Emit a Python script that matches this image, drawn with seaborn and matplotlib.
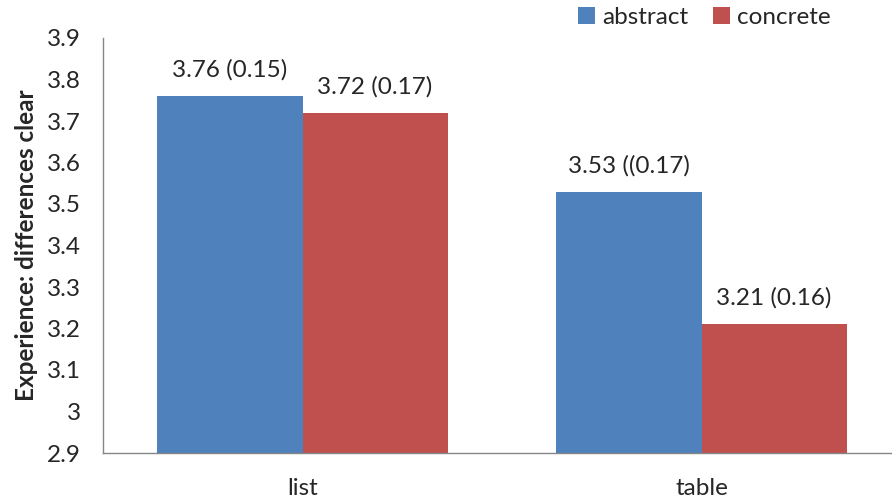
import matplotlib
matplotlib.use("Agg")
import matplotlib.pyplot as plt
import seaborn as sns
import pandas as pd

categories = ["list", "table"]
series = ["abstract", "concrete"]
abstract_vals = [3.76, 3.53]
concrete_vals = [3.72, 3.21]
abstract_labels = ["3.76 (0.15)", "3.53 ((0.17)"]
concrete_labels = ["3.72 (0.17)", "3.21 (0.16)"]
yticks = [2.9, 3.0, 3.1, 3.2, 3.3, 3.4, 3.5, 3.6, 3.7, 3.8, 3.9]
ytick_labels = ["2.9", "3", "3.1", "3.2", "3.3", "3.4", "3.5", "3.6", "3.7", "3.8", "3.9"]
colors = ["#4F81BD", "#C0504D"]

df = pd.DataFrame({
    "category": categories * 2,
    "series": [series[0]] * 2 + [series[1]] * 2,
    "value": abstract_vals + concrete_vals,
})

sns.set_theme(style="white")
plt.rcParams["font.family"] = ["Lato", "DejaVu Sans"]

fig = plt.figure(figsize=(8.92, 5.03), dpi=100)
ax = fig.add_axes([103 / 892, 1 - 453 / 503, (891 - 103) / 892, (453 - 38) / 503])

sns.barplot(data=df, x="category", y="value", hue="series", palette=colors,
            width=0.727, gap=0, ax=ax, saturation=1, edgecolor="none", linewidth=0,
            legend=True)

fs = 17.5
ax.set_ylim(2.9, 3.9)
ax.set_xlim(-0.5, -0.5 + 788 / 399)
ax.set_yticks(yticks)
ax.set_yticklabels(ytick_labels, fontsize=fs)
ax.tick_params(axis="x", labelsize=fs, length=0, pad=18)
ax.tick_params(axis="y", length=0, pad=16)
ax.set_xlabel("")
ax.set_ylabel("Experience: differences clear", fontsize=fs, fontweight="bold", labelpad=6)

for side in ["top", "right"]:
    ax.spines[side].set_visible(False)
for side in ["left", "bottom"]:
    ax.spines[side].set_color("#868686")
    ax.spines[side].set_linewidth(1)

ax.bar_label(ax.containers[0], labels=abstract_labels, padding=11, fontsize=fs)
ax.bar_label(ax.containers[1], labels=concrete_labels, padding=11, fontsize=fs)

leg = ax.legend(loc="upper left", bbox_to_anchor=(576 / 892, 1 - 5 / 503), bbox_transform=fig.transFigure,
                ncol=2, frameon=False, fontsize=fs, handlelength=0.7, handleheight=0.7,
                handletextpad=0.3, columnspacing=1.0, borderaxespad=0, borderpad=0.1)

fig.savefig("out.png", dpi=100)
